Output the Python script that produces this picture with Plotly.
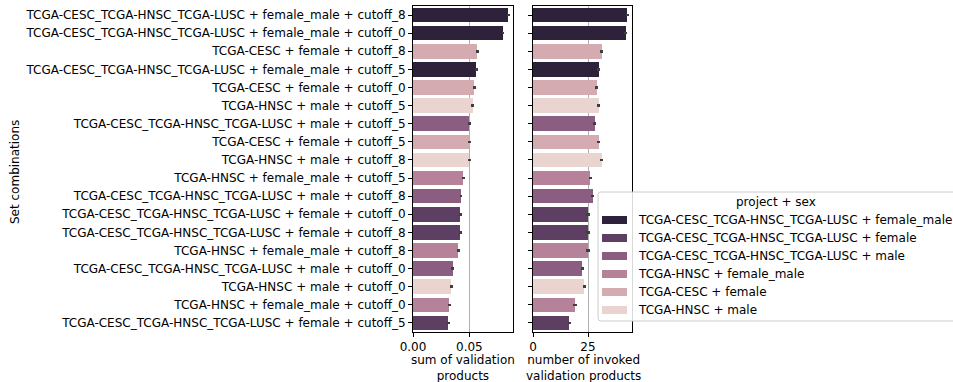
import plotly.graph_objects as go

W, H = 953, 382

labels = [
    "TCGA-CESC_TCGA-HNSC_TCGA-LUSC + female_male + cutoff_8",
    "TCGA-CESC_TCGA-HNSC_TCGA-LUSC + female_male + cutoff_0",
    "TCGA-CESC + female + cutoff_8",
    "TCGA-CESC_TCGA-HNSC_TCGA-LUSC + female_male + cutoff_5",
    "TCGA-CESC + female + cutoff_0",
    "TCGA-HNSC + male + cutoff_5",
    "TCGA-CESC_TCGA-HNSC_TCGA-LUSC + male + cutoff_5",
    "TCGA-CESC + female + cutoff_5",
    "TCGA-HNSC + male + cutoff_8",
    "TCGA-HNSC + female_male + cutoff_5",
    "TCGA-CESC_TCGA-HNSC_TCGA-LUSC + male + cutoff_8",
    "TCGA-CESC_TCGA-HNSC_TCGA-LUSC + female + cutoff_0",
    "TCGA-CESC_TCGA-HNSC_TCGA-LUSC + female + cutoff_8",
    "TCGA-HNSC + female_male + cutoff_8",
    "TCGA-CESC_TCGA-HNSC_TCGA-LUSC + male + cutoff_0",
    "TCGA-HNSC + male + cutoff_0",
    "TCGA-HNSC + female_male + cutoff_0",
    "TCGA-CESC_TCGA-HNSC_TCGA-LUSC + female + cutoff_5",
]
groups = [
    "TCGA-CESC_TCGA-HNSC_TCGA-LUSC + female_male",
    "TCGA-CESC_TCGA-HNSC_TCGA-LUSC + female_male",
    "TCGA-CESC + female",
    "TCGA-CESC_TCGA-HNSC_TCGA-LUSC + female_male",
    "TCGA-CESC + female",
    "TCGA-HNSC + male",
    "TCGA-CESC_TCGA-HNSC_TCGA-LUSC + male",
    "TCGA-CESC + female",
    "TCGA-HNSC + male",
    "TCGA-HNSC + female_male",
    "TCGA-CESC_TCGA-HNSC_TCGA-LUSC + male",
    "TCGA-CESC_TCGA-HNSC_TCGA-LUSC + female",
    "TCGA-CESC_TCGA-HNSC_TCGA-LUSC + female",
    "TCGA-HNSC + female_male",
    "TCGA-CESC_TCGA-HNSC_TCGA-LUSC + male",
    "TCGA-HNSC + male",
    "TCGA-HNSC + female_male",
    "TCGA-CESC_TCGA-HNSC_TCGA-LUSC + female",
]
legend_order = [
    "TCGA-CESC_TCGA-HNSC_TCGA-LUSC + female_male",
    "TCGA-CESC_TCGA-HNSC_TCGA-LUSC + female",
    "TCGA-CESC_TCGA-HNSC_TCGA-LUSC + male",
    "TCGA-HNSC + female_male",
    "TCGA-CESC + female",
    "TCGA-HNSC + male",
]
legend_title = "project + sex"
sum_validation = [0.0843, 0.0798, 0.0569, 0.0560, 0.0542, 0.0530, 0.0497, 0.0500, 0.0497,
                  0.0444, 0.0426, 0.0419, 0.0419, 0.0401, 0.0354, 0.0339, 0.0321, 0.0312]
sum_err = [0.0013] * 18
n_invoked = [42.9, 42.2, 31.2, 29.8, 28.9, 29.8, 28.0, 29.8, 31.2,
             26.1, 27.1, 25.0, 25.0, 25.0, 22.3, 23.2, 19.1, 16.5]
n_err = [0.7] * 18
x1_ticks = [0, 0.05]
x1_ticktext = ["0.00", "0.05"]
x2_ticks = [0, 25]
x2_ticktext = ["0", "25"]

palette = ["#2d223a", "#5d3f63", "#8b5e81", "#b58299", "#d3abb1", "#e9d4cf"]
colors = dict(zip(legend_order, palette))

FONT = "DejaVu Sans"
FS = 12


def px(x):
    return x / W


def py(y):
    return 1 - y / H


fig = go.Figure()
for g in legend_order:
    idx = [i for i, gg in enumerate(groups) if gg == g]
    ys = [labels[i] for i in idx]
    fig.add_trace(go.Bar(
        x=[sum_validation[i] for i in idx], y=ys, orientation="h",
        marker=dict(color=colors[g], line=dict(width=0)), width=0.8,
        error_x=dict(type="data", array=[sum_err[i] for i in idx], color="#3f3f3f", thickness=2.5, width=0),
        xaxis="x", yaxis="y", showlegend=False, name=g))
    fig.add_trace(go.Bar(
        x=[n_invoked[i] for i in idx], y=ys, orientation="h",
        marker=dict(color=colors[g], line=dict(width=0)), width=0.8,
        error_x=dict(type="data", array=[n_err[i] for i in idx], color="#3f3f3f", thickness=2.5, width=0),
        xaxis="x2", yaxis="y2", showlegend=False, name=g))

ydom = [py(332), py(6)]
axcommon = dict(showline=True, linecolor="black", linewidth=1, mirror=True,
                ticks="outside", ticklen=4, tickcolor="black", tickwidth=1,
                layer="above traces", zeroline=False, automargin=False,
                tickfont=dict(family=FONT, size=FS, color="black"))
fig.update_layout(
    width=W, height=H, margin=dict(l=0, r=0, t=0, b=0, autoexpand=False),
    plot_bgcolor="white", paper_bgcolor="white",
    barmode="overlay", bargap=0, showlegend=False,
    font=dict(family=FONT, size=FS, color="black"),
    xaxis=dict(domain=[px(413), px(513)], range=[0, 0.0887],
               tickvals=x1_ticks, ticktext=x1_ticktext,
               showgrid=True, gridcolor="#b0b0b0", gridwidth=1, **axcommon),
    xaxis2=dict(domain=[px(533), px(632)], range=[0, 45],
                tickvals=x2_ticks, ticktext=x2_ticktext,
                showgrid=True, gridcolor="#b0b0b0", gridwidth=1, **axcommon),
    yaxis=dict(domain=ydom, anchor="x", categoryorder="array", categoryarray=labels,
               autorange="reversed", showgrid=False, **axcommon),
    yaxis2=dict(domain=ydom, anchor="x2", matches="y", showticklabels=False,
                categoryorder="array", categoryarray=labels,
                autorange="reversed", showgrid=False, **axcommon),
)

# legend (drawn manually)
x0, y0, y1 = 598, 192, 321
r = 3
path = (f"M {px(x0 + r)},{py(y0)} L {px(W + 20)},{py(y0)} L {px(W + 20)},{py(y1)} "
        f"L {px(x0 + r)},{py(y1)} Q {px(x0)},{py(y1)} {px(x0)},{py(y1 - r)} "
        f"L {px(x0)},{py(y0 + r)} Q {px(x0)},{py(y0)} {px(x0 + r)},{py(y0)} Z")
fig.add_shape(type="path", path=path, xref="paper", yref="paper",
              fillcolor="rgba(255,255,255,0.85)", line=dict(color="#cccccc", width=1), layer="above")
fig.add_annotation(text=legend_title, x=px(776), y=py(202), xref="paper", yref="paper",
                   showarrow=False, xanchor="center", yanchor="middle",
                   font=dict(family=FONT, size=FS, color="black"))
for k, g in enumerate(legend_order):
    yc = 220 + 18 * k
    fig.add_shape(type="rect", xref="paper", yref="paper",
                  x0=px(602), x1=px(627), y0=py(yc - 4), y1=py(yc + 4),
                  fillcolor=colors[g], line=dict(width=0), layer="above")
    fig.add_annotation(text=g, x=px(636), y=py(yc), xref="paper", yref="paper",
                       showarrow=False, xanchor="left", yanchor="middle",
                       font=dict(family=FONT, size=FS, color="black"))

fig.add_annotation(text="Set combinations", x=px(15), y=py(172), xref="paper", yref="paper",
                   textangle=-90, showarrow=False, font=dict(family=FONT, size=FS, color="black"),
                   xanchor="center", yanchor="middle")
for txt, xc in [("sum of validation<br>products", 463),
                ("number of invoked<br>validation products", 583)]:
    fig.add_annotation(text=txt, x=px(xc), y=py(368), xref="paper", yref="paper",
                       showarrow=False, xanchor="center", yanchor="middle", align="center",
                       font=dict(family=FONT, size=FS, color="black"))
fig.write_html("out.html", config={"displayModeBar": False},
               post_script="document.body.style.margin='0';document.body.style.overflow='hidden';")
